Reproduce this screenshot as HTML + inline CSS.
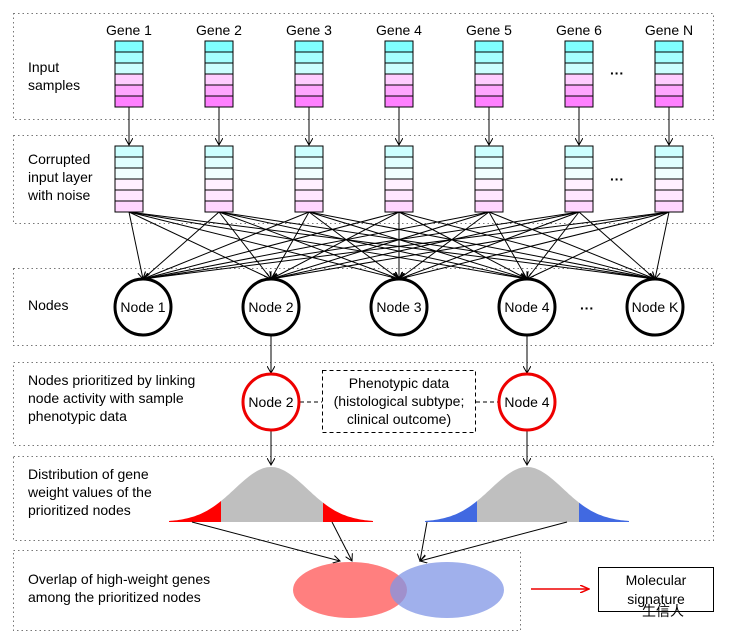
<!DOCTYPE html>
<html><head><meta charset="utf-8"><style>
html,body{margin:0;padding:0;background:#fff}
svg{display:block}
text{font-family:"Liberation Sans",sans-serif;font-size:14px;fill:#000}
</style></head><body>
<svg width="737" height="642" viewBox="0 0 737 642">
<defs>
<marker id="a" markerWidth="8" markerHeight="8" refX="7" refY="4" orient="auto" markerUnits="userSpaceOnUse"><path d="M0,0 L7,4 L0,8" fill="none" stroke="#000" stroke-width="1"/></marker>
<marker id="r" markerWidth="10" markerHeight="8" refX="9" refY="4" orient="auto" markerUnits="userSpaceOnUse"><path d="M0,0 L9,4 L0,8" fill="none" stroke="#e00" stroke-width="1.5"/></marker>
</defs>
<g fill="none" stroke="#777" stroke-width="1" stroke-dasharray="1.5,3">
<rect x="13.5" y="13.5" width="700" height="106"/>
<rect x="13.5" y="135.5" width="700" height="88"/>
<rect x="13.5" y="268.5" width="700" height="77"/>
<rect x="13.5" y="362.5" width="700" height="83"/>
<rect x="13.5" y="456.5" width="700" height="84"/>
<rect x="13.5" y="550.5" width="507" height="80"/>
</g>
<text x="28" y="72">Input</text><text x="28" y="90">samples</text>
<text x="28" y="164">Corrupted</text><text x="28" y="182">input layer</text><text x="28" y="200">with noise</text>
<text x="28" y="310">Nodes</text>
<text x="28" y="385">Nodes prioritized by linking</text><text x="28" y="403">node activity with sample</text><text x="28" y="421">phenotypic data</text>
<text x="28" y="479">Distribution of gene</text><text x="28" y="497">weight values of the</text><text x="28" y="515">prioritized nodes</text>
<text x="28" y="584">Overlap of high-weight genes</text><text x="28" y="602">among the prioritized nodes</text>
<g stroke="#000" stroke-width="1">
<g id="cols"></g>
</g>
<text x="610" y="78" font-size="20" font-weight="bold">···</text>
<text x="610" y="184" font-size="20" font-weight="bold">···</text>
<text x="580" y="313" font-size="20" font-weight="bold">···</text>
<g stroke="#000" stroke-width="3" fill="#fff">
<circle cx="143" cy="307" r="28"/><circle cx="271" cy="307" r="28"/><circle cx="399" cy="307" r="28"/><circle cx="527" cy="307" r="28"/><circle cx="655" cy="307" r="28"/>
</g>
<g text-anchor="middle">
<text x="143" y="312">Node 1</text><text x="271" y="312">Node 2</text><text x="399" y="312">Node 3</text><text x="527" y="312">Node 4</text><text x="655" y="312">Node K</text>
</g>
<g stroke="#000" stroke-width="1">
<line x1="271" y1="336" x2="271" y2="373" marker-end="url(#a)"/>
<line x1="527" y1="336" x2="527" y2="373" marker-end="url(#a)"/>
<line x1="271" y1="431" x2="271" y2="465" marker-end="url(#a)"/>
<line x1="527" y1="431" x2="527" y2="465" marker-end="url(#a)"/>
<line x1="300" y1="402" x2="322" y2="402" stroke-dasharray="4,3"/>
<line x1="476" y1="402" x2="498" y2="402" stroke-dasharray="4,3"/>
</g>
<g stroke="#e00" stroke-width="3" fill="#fff">
<circle cx="271" cy="402" r="28"/><circle cx="527" cy="402" r="28"/>
</g>
<text x="271" y="407" text-anchor="middle">Node 2</text><text x="527" y="407" text-anchor="middle">Node 4</text>
<rect x="322.5" y="370.5" width="153" height="62" fill="none" stroke="#000" stroke-dasharray="4,3"/>
<g text-anchor="middle"><text x="399" y="388">Phenotypic data</text><text x="399" y="406">(histological subtype;</text><text x="399" y="424">clinical outcome)</text></g>
<g id="dist"></g>
<ellipse cx="350" cy="590" rx="57" ry="28" fill="#ff7f7f"/>
<ellipse cx="447" cy="590" rx="57" ry="28" fill="#8096e6" fill-opacity="0.75"/>
<g stroke="#000" stroke-width="1">
<line x1="192" y1="522" x2="340" y2="561" marker-end="url(#a)"/>
<line x1="332" y1="522" x2="352" y2="561" marker-end="url(#a)"/>
<line x1="427" y1="522" x2="420" y2="561" marker-end="url(#a)"/>
<line x1="567" y1="522" x2="420" y2="561" marker-end="url(#a)"/>
</g>
<line x1="531" y1="589" x2="589" y2="589" stroke="#e00" stroke-width="1.5" marker-end="url(#r)"/>
<rect x="598.5" y="567.5" width="115" height="44" fill="#fff" stroke="#000"/>
<text x="656" y="585" text-anchor="middle">Molecular</text><text x="656" y="604" text-anchor="middle">signature</text>
<text x="642" y="616" font-family="Noto Sans CJK SC,sans-serif" font-size="14" fill="#bbb">生信人</text>
</svg>
<script>
var ns="http://www.w3.org/2000/svg",cols=document.getElementById('cols'),xs=[129,219,309,399,489,579,669],nx=[143,271,399,527,655];
var topC=["#80ffff","#a6ffff","#ccffff","#ffccff","#ffa6ff","#ff80ff"],botC=["#ccffff","#e0ffff","#f0ffff","#fff0ff","#ffe6ff","#ffd6ff"];
function el(t,a){var e=document.createElementNS(ns,t);for(var k in a)e.setAttribute(k,a[k]);cols.appendChild(e);return e;}
var names=["Gene 1","Gene 2","Gene 3","Gene 4","Gene 5","Gene 6","Gene N"];
xs.forEach(function(x,i){
 var t=el('text',{x:x,y:35,'text-anchor':'middle',stroke:'none'});t.textContent=names[i];
 for(var j=0;j<6;j++){el('rect',{x:x-14,y:41+j*11,width:28,height:11,fill:topC[j]});el('rect',{x:x-14,y:146+j*11,width:28,height:11,fill:botC[j]});}
 el('line',{x1:x,y1:107,x2:x,y2:145,'marker-end':'url(#a)'});
 nx.forEach(function(n){el('line',{x1:x,y1:212,x2:n,y2:279,'marker-end':'url(#a)'});});
});
var d=document.getElementById('dist');
function curve(c,col){
 var s=36,pts=[];for(var x=c-102;x<=c+102;x+=2){pts.push([x,522-55*Math.exp(-Math.pow((x-c)/s,2)/2)]);}
 function path(a,b){var p="M"+a+",522";pts.forEach(function(q){if(q[0]>=a&&q[0]<=b)p+=" L"+q[0]+","+q[1].toFixed(1);});return p+" L"+b+",522 Z";}
 [[c-102,c-50,col],[c-50,c+52,"#bfbfbf"],[c+52,c+102,col]].forEach(function(r){var e=document.createElementNS(ns,'path');e.setAttribute('d',path(r[0],r[1]));e.setAttribute('fill',r[2]);d.appendChild(e);});
}
curve(271,"#ff0000");curve(527,"#4169e1");
</script>
</body></html>
